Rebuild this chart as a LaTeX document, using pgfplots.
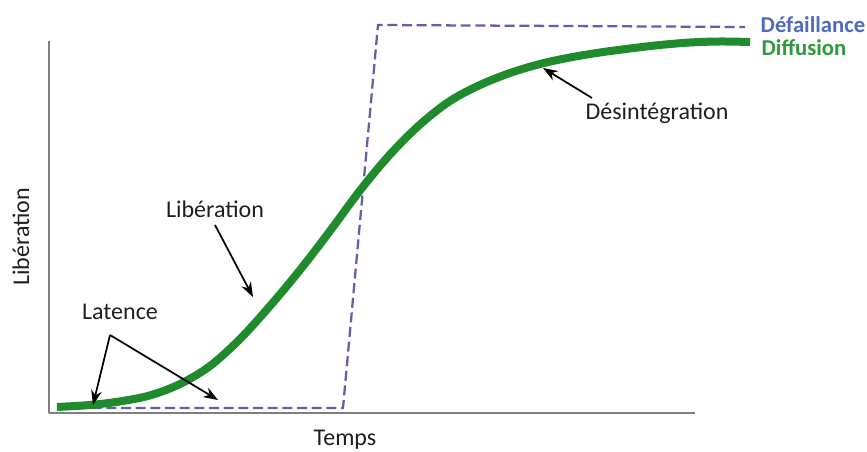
\documentclass[border=0pt]{standalone}
\usepackage{fontspec}
\setmainfont{Carlito}
\usepackage{pgfplots}
\pgfplotsset{compat=1.18}
\usetikzlibrary{arrows.meta}
\definecolor{diffgreen}{HTML}{1F8B2C}
\definecolor{failblue}{HTML}{6062A8}
\definecolor{failtext}{HTML}{4F6BBF}
\definecolor{difftext}{HTML}{2E9A3A}
\definecolor{axgray}{HTML}{7F7F7F}
\tikzset{lbl/.style={font=\fontsize{18}{21}\selectfont, text=black!88}}
\begin{document}
\begin{tikzpicture}
\begin{axis}[
  x=0.75pt, y=0.75pt,
  xmin=49, xmax=695, ymin=0, ymax=372,
  axis x line*=bottom, axis y line*=left,
  axis line style={axgray, line width=1.3pt, -},
  ticks=none,
  clip=false,
]
% Défaillance (dashed)
\addplot[failblue, line width=1.7pt, dash pattern=on 7.5pt off 3.5pt] coordinates {
  (77,5) (343,5) (378,388) (745,386)
};
% Diffusion (green sigmoid)
\addplot[diffgreen, line width=6pt, smooth, tension=0.55] coordinates {
  (57,6) (90,8) (120,11.6) (150,17.6) (180,29) (210,47) (240,74) (270,107)
  (300,143) (330,182) (360,222.5) (390,258.5) (420,288.5) (450,312)
  (480,328) (510,340) (540,349) (570,355.5) (600,360.5) (630,364.5)
  (660,368) (690,370.5) (720,371.5) (750,371)
};
% labels
\node[anchor=west, text=failtext, font=\fontsize{17}{20}\selectfont\bfseries] at (axis cs:756,388) {Défaillance};
\node[anchor=west, text=difftext, font=\fontsize{17}{20}\selectfont\bfseries] at (axis cs:757,365) {Diffusion};
\node[lbl] at (axis cs:657,300) {Désintégration};
\node[lbl] at (axis cs:215,204) {Libération};
\node[lbl] at (axis cs:120,101) {Latence};
\node[lbl] at (axis cs:345,-27) {Temps};
\node[lbl, rotate=90] at (axis cs:21,176) {Libération};
% arrows
\draw[-{Stealth[length=11pt,width=8pt]}, line width=1.3pt] (axis cs:592,315) -- (axis cs:543,345);
\draw[-{Stealth[length=11pt,width=8pt]}, line width=1.3pt] (axis cs:215,188) -- (axis cs:253,116);
\draw[-{Stealth[length=11pt,width=8pt]}, line width=1.3pt] (axis cs:110,78) -- (axis cs:93,8);
\draw[-{Stealth[length=11pt,width=8pt]}, line width=1.3pt] (axis cs:110,78) -- (axis cs:218,13);
\coordinate (bl) at (axis cs:0,-39);
\coordinate (tr) at (axis cs:867,413);
\end{axis}
\pgfresetboundingbox
\path[use as bounding box] (bl) rectangle (tr);
\end{tikzpicture}
\end{document}
